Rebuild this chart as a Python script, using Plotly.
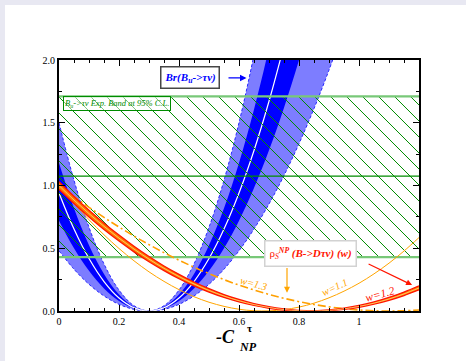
import plotly.graph_objects as go

# ---------------- data ----------------
# -C_NP sample points for the Br(B_u -> tau nu) band
x_br = [0.0, 0.05, 0.1, 0.15, 0.2, 0.25, 0.3, 0.35, 0.4, 0.45, 0.5, 0.55, 0.6, 0.65, 0.7, 0.75, 0.8, 0.85, 0.9, 0.95]
br_light_hi = [1.5, 1.042, 0.667, 0.375, 0.167, 0.042, 0.0, 0.042, 0.167, 0.375, 0.667, 1.042, 1.5, 2.042, 2.667, 3.375]
br_light_lo = [0.48, 0.333, 0.213, 0.12, 0.053, 0.013, 0.0, 0.013, 0.053, 0.12, 0.213, 0.333, 0.48, 0.653, 0.853, 1.08, 1.333, 1.613, 1.92, 2.253]
br_dark_hi = [1.18, 0.819, 0.524, 0.295, 0.131, 0.033, 0.0, 0.033, 0.131, 0.295, 0.524, 0.819, 1.18, 1.606, 2.098, 2.655]
br_dark_lo = [0.72, 0.5, 0.32, 0.18, 0.08, 0.02, 0.0, 0.02, 0.08, 0.18, 0.32, 0.5, 0.72, 0.98, 1.28, 1.62, 2.0, 2.42]
br_central = [0.94, 0.653, 0.418, 0.235, 0.104, 0.026, 0.0, 0.026, 0.104, 0.235, 0.418, 0.653, 0.94, 1.279, 1.671, 2.115]

# experimental band (95% C.L.)
exp_lo, exp_central, exp_hi = 0.43, 1.075, 1.71

# rho_S^NP (B -> D tau nu)(w)
x_rho = [0.0, 0.05, 0.1, 0.15, 0.2, 0.25, 0.3, 0.35, 0.4, 0.45, 0.5, 0.55, 0.6,
         0.65, 0.7, 0.75, 0.8, 0.85, 0.9, 0.95, 1.0, 1.05, 1.1, 1.15, 1.2]
rho_w11 = [1.0, 0.858, 0.727, 0.607, 0.498, 0.400, 0.312, 0.236, 0.170, 0.114, 0.070, 0.037, 0.014,
           0.002, 0.001, 0.011, 0.031, 0.0625, 0.105, 0.158, 0.221, 0.296, 0.381, 0.478, 0.585]
rho_w12 = [1.0, 0.8845, 0.7762, 0.6747, 0.5805, 0.4934, 0.4133, 0.3402, 0.2744, 0.2156, 0.1639, 0.1192, 0.0816,
           0.0512, 0.0278, 0.0115, 0.0023, 0.0001, 0.0051, 0.0172, 0.0363, 0.0625, 0.0958, 0.1362, 0.1837]
rho_w12_hi = [1.03, 0.913, 0.803, 0.700, 0.605, 0.516, 0.434, 0.359, 0.292, 0.231, 0.178, 0.131, 0.092,
              0.059, 0.034, 0.016, 0.004, 0.000, 0.003, 0.013, 0.030, 0.054, 0.085, 0.123, 0.168]
rho_w12_lo = [0.97, 0.856, 0.749, 0.649, 0.557, 0.471, 0.393, 0.322, 0.257, 0.200, 0.151, 0.108, 0.072,
              0.044, 0.022, 0.008, 0.001, 0.001, 0.008, 0.022, 0.044, 0.072, 0.108, 0.151, 0.200]
rho_w13 = [1.0, 0.9111, 0.8264, 0.7458, 0.6694, 0.5971, 0.5289, 0.4649, 0.405, 0.3492, 0.2975, 0.25, 0.2066,
           0.1674, 0.1322, 0.1012, 0.0744, 0.0517, 0.0331, 0.0186, 0.0083, 0.0021, 0.0, 0.0021, 0.0083]

x_ticks = [0, 0.2, 0.4, 0.6, 0.8, 1.0]
x_ticktext = ["0", "0.2", "0.4", "0.6", "0.8", "1"]
y_ticks = [0, 0.5, 1.0, 1.5, 2.0]
y_ticktext = ["0.0", "0.5", "1.0", "1.5", "2.0"]

X_RANGE = [0, 1.2]
Y_RANGE = [0, 2.0]

# ---------------- figure ----------------
BLUE = "rgb(0,0,255)"
LIGHTBLUE = "rgb(125,125,255)"
GREEN = "rgb(0,140,0)"
LGREEN = "rgb(120,200,120)"
ORANGE = "rgb(255,165,0)"
RED = "rgb(255,20,0)"

W, H = 466, 361
ML, MR, MT, MB = 59, 47, 60, 50
plot_w, plot_h = W - ML - MR, H - MT - MB

fig = go.Figure()

def n(a):
    return x_br[:len(a)]

# light blue band
fig.add_trace(go.Scatter(x=n(br_light_lo), y=br_light_lo, mode="lines", line=dict(color="rgb(40,40,255)", width=1, dash="3px,2px", shape="spline")))
fig.add_trace(go.Scatter(x=n(br_light_hi), y=br_light_hi, mode="lines", fill="tonexty", fillcolor=LIGHTBLUE,
                         line=dict(color="rgb(40,40,255)", width=1, dash="3px,2px", shape="spline")))
# dark blue band
fig.add_trace(go.Scatter(x=n(br_dark_lo), y=br_dark_lo, mode="lines", line=dict(color=BLUE, width=0, shape="spline")))
fig.add_trace(go.Scatter(x=n(br_dark_hi), y=br_dark_hi, mode="lines", fill="tonexty", fillcolor=BLUE,
                         line=dict(color=BLUE, width=0, shape="spline")))
fig.add_trace(go.Scatter(x=n(br_central), y=br_central, mode="lines", line=dict(color="white", width=1.2, shape="spline")))

# hatched experimental band: 45-degree (in screen space) lines clipped to the band
px_per_x = plot_w / (X_RANGE[1] - X_RANGE[0])
px_per_y = plot_h / (Y_RANGE[1] - Y_RANGE[0])
slope = px_per_x / px_per_y          # data-units dy per dx for a 45 deg line
step = 16 / px_per_x                 # 16 px horizontal spacing
band_h = exp_hi - exp_lo
hx, hy = [], []
x_start = X_RANGE[0] - band_h / slope
while x_start < X_RANGE[1]:
    xa, ya = x_start, exp_hi
    xb, yb = x_start + band_h / slope, exp_lo
    if xa < X_RANGE[0]:
        ya = exp_hi - (X_RANGE[0] - x_start) * slope
        xa = X_RANGE[0]
    if xb > X_RANGE[1]:
        yb = exp_hi - (X_RANGE[1] - x_start) * slope
        xb = X_RANGE[1]
    hx += [xa, xb, None]
    hy += [ya, yb, None]
    x_start += step
fig.add_trace(go.Scatter(x=hx, y=hy, mode="lines", line=dict(color=GREEN, width=1)))

fig.add_trace(go.Scatter(x=X_RANGE, y=[exp_hi, exp_hi], mode="lines", line=dict(color=LGREEN, width=2.2)))
fig.add_trace(go.Scatter(x=X_RANGE, y=[exp_lo, exp_lo], mode="lines", line=dict(color=LGREEN, width=2.2)))
fig.add_trace(go.Scatter(x=X_RANGE, y=[exp_central, exp_central], mode="lines", line=dict(color=GREEN, width=1.4)))

# rho curves
fig.add_trace(go.Scatter(x=x_rho, y=rho_w11, mode="lines", line=dict(color=ORANGE, width=1, shape="spline")))
fig.add_trace(go.Scatter(x=x_rho, y=rho_w13, mode="lines", line=dict(color="rgb(255,160,0)", width=1.6, dash="8px,3px,2px,3px", shape="spline")))
fig.add_trace(go.Scatter(x=x_rho, y=rho_w12_lo, mode="lines", line=dict(color=RED, width=1.3, shape="spline")))
fig.add_trace(go.Scatter(x=x_rho, y=rho_w12_hi, mode="lines", fill="tonexty", fillcolor="rgb(255,120,0)",
                         line=dict(color=RED, width=1.3, shape="spline")))
fig.add_trace(go.Scatter(x=x_rho, y=rho_w12, mode="lines", line=dict(color="rgb(255,220,120)", width=0.8, shape="spline")))

serif = "Liberation Serif"
annotations = [
    dict(x=0.013, y=1.657, xref="x", yref="y", xanchor="left", yanchor="middle", showarrow=False,
         text="<i>B<sub>u</sub>->τν Exp. Band at 95% C.L.</i>", font=dict(family=serif, size=8.5, color=GREEN),
         bordercolor=GREEN, borderwidth=1, borderpad=1, bgcolor="rgba(255,255,255,0.5)"),
    dict(x=0.437, y=1.857, xref="x", yref="y", showarrow=False,
         text="<b><i>Br(B<sub>u</sub>->τν)</i></b>", font=dict(family=serif, size=11, color=BLUE),
         bordercolor="rgb(70,70,70)", borderwidth=1.5, borderpad=3, bgcolor="white"),
    dict(x=0.625, y=1.857, ax=0.56, ay=1.857, xref="x", yref="y", axref="x", ayref="y", text="",
         showarrow=True, arrowhead=2, arrowsize=1, arrowwidth=1.3, arrowcolor=BLUE),
    dict(x=0.838, y=0.462, xref="x", yref="y", showarrow=False,
         text="ρ<sub><i>S</i></sub><sup><b><i>NP</i></b></sup> <b><i>(B->Dτν) (w)</i></b>",
         font=dict(family=serif, size=11, color=RED),
         bordercolor="rgb(210,210,210)", borderwidth=1.5, borderpad=4, bgcolor="white"),
    dict(x=0.76, y=0.145, ax=0.76, ay=0.355, xref="x", yref="y", axref="x", ayref="y", text="",
         showarrow=True, arrowhead=2, arrowsize=1, arrowwidth=1.2, arrowcolor=ORANGE),
    dict(x=1.177, y=0.207, ax=1.027, ay=0.38, xref="x", yref="y", axref="x", ayref="y", text="",
         showarrow=True, arrowhead=2, arrowsize=1, arrowwidth=1.2, arrowcolor=RED),
    dict(x=0.647, y=0.223, xref="x", yref="y", showarrow=False, textangle=15,
         text="<i>w=1.3</i>", font=dict(family=serif, size=10.5, color=ORANGE)),
    dict(x=0.917, y=0.19, xref="x", yref="y", showarrow=False, textangle=-25,
         text="<i>w=1.1</i>", font=dict(family=serif, size=10.5, color=ORANGE)),
    dict(x=1.07, y=0.135, xref="x", yref="y", showarrow=False, textangle=-15,
         text="<i>w=1.2</i>", font=dict(family=serif, size=11.5, color=RED)),
    # axis title  -C^tau_NP
    dict(x=(225 - ML) / plot_w, y=(H - MB - 337) / plot_h, xref="paper", yref="paper", showarrow=False,
         xanchor="center", yanchor="middle",
         text="<b><i>-C</i></b>", font=dict(family=serif, size=18, color="black")),
    dict(x=(249 - ML) / plot_w, y=(H - MB - 328) / plot_h, xref="paper", yref="paper", showarrow=False,
         xanchor="center", yanchor="middle",
         text="<b>τ</b>", font=dict(family=serif, size=11, color="black")),
    dict(x=(248 - ML) / plot_w, y=(H - MB - 347) / plot_h, xref="paper", yref="paper", showarrow=False,
         xanchor="center", yanchor="middle",
         text="<b><i>NP</i></b>", font=dict(family=serif, size=12, color="black")),
]

fig.update_layout(
    width=W, height=H, autosize=False,
    margin=dict(l=ML, r=MR, t=MT, b=MB),
    paper_bgcolor="rgb(232,232,242)", plot_bgcolor="white",
    showlegend=False,
    annotations=annotations,
    shapes=[dict(type="rect", xref="paper", yref="paper", x0=(5 - ML) / plot_w, x1=1.3, y0=-0.3,
                 y1=(H - MB - 5) / plot_h, fillcolor="white", line=dict(width=0), layer="below")],
)
fig.update_xaxes(range=X_RANGE, tickmode="array", tickvals=x_ticks, ticktext=x_ticktext,
                 ticks="inside", ticklen=6, tickwidth=1.2, tickcolor="black", mirror="allticks",
                 showline=True, linecolor="black", linewidth=1.8, showgrid=False, zeroline=False,
                 tickfont=dict(family=serif, size=10, color="black"),
                 minor=dict(tickmode="linear", tick0=0, dtick=0.05, ticks="inside", ticklen=3, tickcolor="black", showgrid=False))
fig.update_yaxes(range=Y_RANGE, tickmode="array", tickvals=y_ticks, ticktext=y_ticktext,
                 ticks="inside", ticklen=6, tickwidth=1.2, tickcolor="black", mirror="allticks",
                 showline=True, linecolor="black", linewidth=1.8, showgrid=False, zeroline=False,
                 tickfont=dict(family=serif, size=10, color="black"),
                 minor=dict(tickmode="linear", tick0=0, dtick=0.25, ticks="inside", ticklen=3, tickcolor="black", showgrid=False))

fig.write_html("out.html")
